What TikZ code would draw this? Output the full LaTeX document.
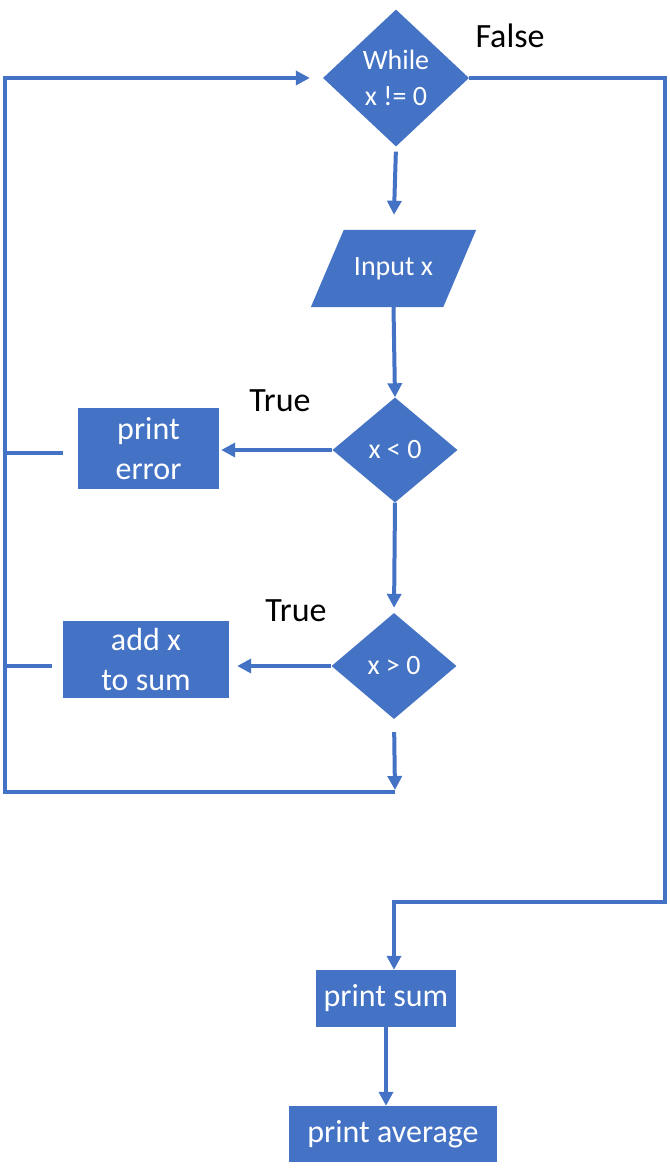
\documentclass[tikz,border=0pt]{standalone}
\usepackage{fontspec}
\setmainfont{Carlito}
\usetikzlibrary{shapes.geometric,arrows.meta,calc,backgrounds}
\definecolor{ob}{HTML}{4472C4}
\begin{document}
\begin{tikzpicture}[x=1pt,y=-1pt,
  box/.style={rectangle, fill=ob, text=white, font=\fontsize{32}{40}\selectfont, align=center, inner sep=0pt},
  dia/.style={diamond, fill=ob, text=white, font=\fontsize{28}{36}\selectfont, align=center, inner sep=0pt},
  para/.style={rectangle, text=white, font=\fontsize{28}{36}\selectfont, inner sep=0pt},
  lab/.style={font=\fontsize{34}{40}\selectfont, text=black, inner sep=0pt},
  ln/.style={draw=ob, line width=4pt},
  arr/.style={ln, -{Triangle[length=14pt,width=14pt]}},
]
\useasboundingbox (0,0) rectangle (669,1174);

\node[dia, minimum width=146pt, minimum height=137pt] (wh) at (396,78) {While\\x != 0};
\node[lab] (fl) at (510,36) {False};
\node[para, minimum width=132pt, minimum height=77pt] (inp) at (393.5,268.5) {Input x};
\begin{pgfonlayer}{background}
\fill[ob] ($(inp.south west)+(-16.5,0)$) -- ($(inp.north west)+(16.5,0)$)
  -- ($(inp.north east)+(16.5,0)$) -- ($(inp.south east)+(-16.5,0)$) -- cycle;
\end{pgfonlayer}
\node[dia, minimum width=125pt, minimum height=105pt] (lt) at (395,450) {x < 0};
\node[lab] (t1) at (280,401) {True};
\node[box, minimum width=141pt, minimum height=81pt] (perr) at (148.5,448.5) {print\\error};
\node[dia, minimum width=125pt, minimum height=106pt] (gt) at (394,666) {x > 0};
\node[lab] (t2) at (296,611) {True};
\node[box, minimum width=166pt, minimum height=77pt] (addx) at (146,659.5) {add x\\to sum};
\node[box, minimum width=140pt, minimum height=57pt] (psum) at (386,998.5) {print sum};
\node[box, minimum width=208pt, minimum height=56pt] (pavg) at (393,1134) {print average};

\coordinate (j1) at (395,792);
\coordinate (lb) at (5,792);
\coordinate (ltop) at (5,78);
\coordinate (rt) at (665,78);
\coordinate (rb) at (665,902);
\coordinate (j2) at (394,902);
\coordinate (s1) at (5,453);
\coordinate (s1e) at (63,453);
\coordinate (s2) at (5,666);
\coordinate (s2e) at (52,666);

\draw[arr, shorten <=5pt, shorten >=15pt] (wh.south) -- (inp.north);
\draw[arr] (inp.south) -- (lt.north);
\draw[arr, shorten >=2pt] (lt.west) -- (perr.east |- lt.west);
\draw[arr, shorten >=5pt] (lt.south) -- (gt.north);
\draw[arr, shorten >=8pt] (gt.west) -- (addx.east |- gt.west);
\draw[arr, shorten <=13pt, shorten >=2pt] (gt.south) -- (j1);
\draw[arr, shorten >=13pt] (j1) -- (lb) -- (ltop) -- (wh.west);
\draw[ln] (s1) -- (s1e);
\draw[ln] (s2) -- (s2e);
\draw[arr] (wh.east) -- (rt) -- (rb) -- (j2) -- (j2 |- psum.north);
\draw[arr] (psum.south) -- (psum.south |- pavg.north);
\end{tikzpicture}
\end{document}
